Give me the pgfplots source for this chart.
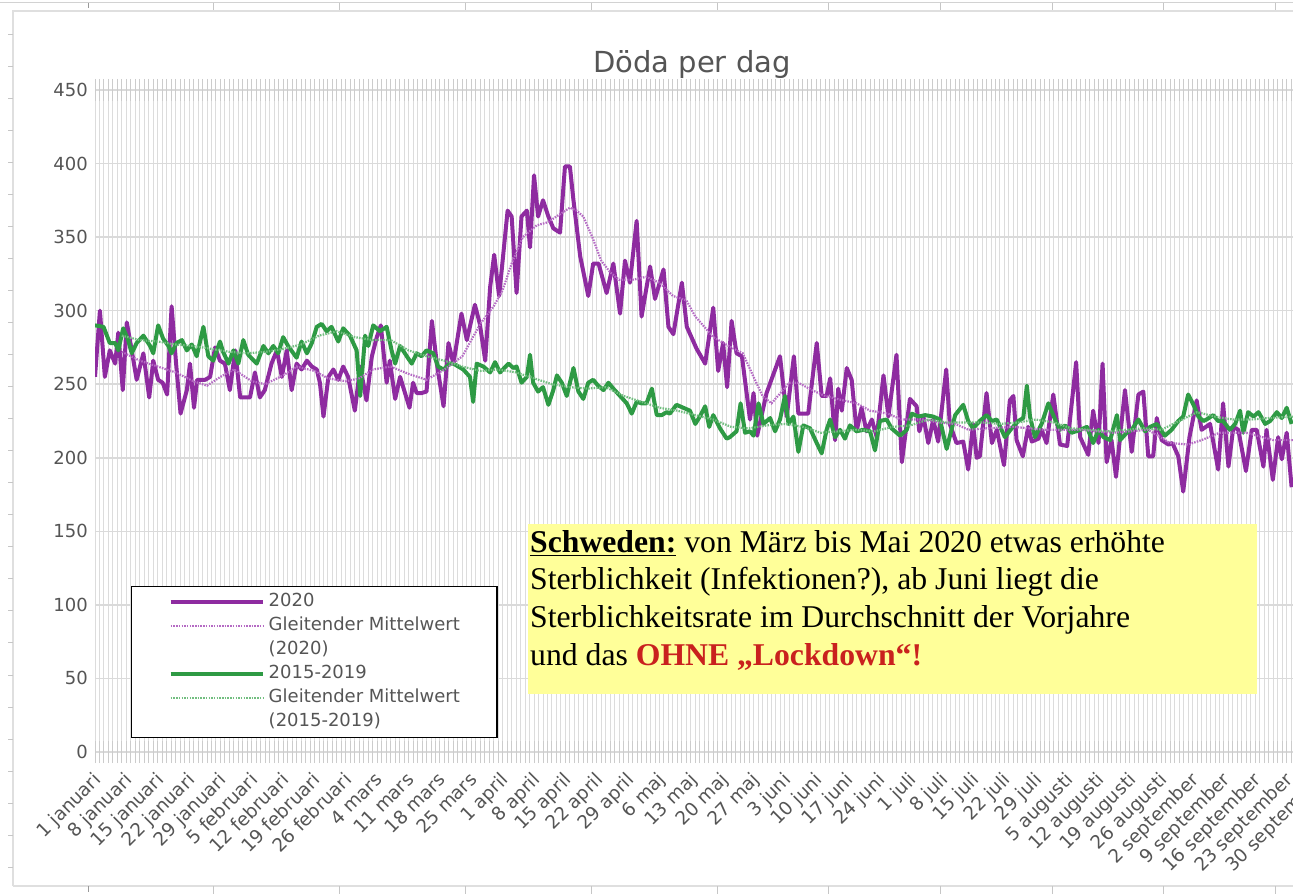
\documentclass[border=0pt]{standalone}
\usepackage{fontspec}
\setmainfont{DejaVu Sans}
\newfontfamily\serifx{Liberation Serif}
\usepackage{xcolor}
\usepackage{pgfplots}
\pgfplotsset{compat=1.18}
\definecolor{pur}{HTML}{8E2BA0}
\definecolor{grn}{HTML}{2E9A44}
\definecolor{purma}{HTML}{B56AC4}
\definecolor{grnma}{HTML}{72BE80}
\definecolor{txt}{HTML}{555555}
\definecolor{gridc}{HTML}{DADADA}
\definecolor{vgrid}{HTML}{DCDCDC}
\definecolor{ann}{HTML}{FFFF99}
\definecolor{annred}{HTML}{C9211E}
\begin{document}
\begin{tikzpicture}[x=1bp,y=1bp]
\fill[white] (0,0) rectangle (1304,894);
% spreadsheet surroundings
\draw[gray!35, line width=1bp] (0,891) -- (1293,891);
\foreach \x in {213,339,465,591,717,828,940,1052,1163,1275} {\draw[gray!45, line width=1bp] (\x,891) -- (\x,884);}
\draw[gray!80, line width=1bp] (88,891) -- (88,886);
\draw[gray!25, line width=1.5bp] (13,8) -- (13,883) -- (1300,883);
\draw[gray!25, line width=1.5bp] (13,8) -- (1300,8);
\foreach \x in {213,339,465,591,717,828,940,1052,1163,1275} {\draw[gray!45, line width=1bp] (\x,8) -- (\x,0);}
\draw[gray!80, line width=1bp] (88,8) -- (88,2);
\foreach \k in {0,...,26} {\draw[gray!45, line width=1bp] (8,859-32*\k) -- (13,859-32*\k);}

\begin{axis}[
  at={(95bp,142bp)}, anchor=origin, scale only axis,
  width=1236.48bp, height=662bp,
  xmin=0, xmax=276, ymin=0, ymax=450,
  axis line style={draw=none},
  ytick={0,50,...,450},
  yticklabels={0,50,100,150,200,250,300,350,400,450},
  xtick={0,7,...,273},
  xticklabels={1 januari,8 januari,15 januari,22 januari,29 januari,5 februari,12 februari,19 februari,26 februari,4 mars,11 mars,18 mars,25 mars,1 april,8 april,15 april,22 april,29 april,6 maj,13 maj,20 maj,27 maj,3 juni,10 juni,17 juni,24 juni,1 juli,8 juli,15 juli,22 juli,29 juli,5 augusti,12 augusti,19 augusti,26 augusti,2 september,9 september,16 september,23 september,30 september},
  minor xtick={0,1,...,276},
  xmajorgrids, xminorgrids, ymajorgrids,
  x grid style={vgrid, line width=1bp},
  y grid style={gridc, line width=1.5bp},
  major tick length=0bp, minor tick length=22bp, tick align=center,
  minor tick style={gray!40, line width=1bp},
  yticklabel style={font=\fontsize{18bp}{20bp}\selectfont, text=txt, inner sep=0pt, xshift=-7bp},
  xticklabel style={font=\fontsize{18.5bp}{20bp}\selectfont, text=txt, inner sep=0pt, anchor=north east, xshift=-3bp, yshift=-19bp, rotate=45},
  legend style={at={(axis description cs:0.0291,0.2508)}, anchor=north west,
    draw=black, line width=1.5bp, fill=white, inner xsep=37bp, inner ysep=7bp,
    font=\fontsize{18bp}{21bp}\selectfont, text=txt, row sep=7bp, column sep=4bp,
    nodes={inner sep=0pt, text height=13bp, text depth=4bp}},
  legend cell align=left,
  legend image code/.code={\draw[#1] (0bp,0bp) -- (92bp,0bp);},
]
% 2020
\addplot[pur, line width=4bp, line join=round, forget plot] coordinates {
(0,255) (1.1,300) (2.2,255) (3.3,273) (4.5,264) (5.2,285) (6.2,246) (7.1,292) (8.2,273) (9.3,253)
(10.8,271) (12.1,241) (13,266) (14.1,253) (15.1,251) (16.1,243) (17.1,303) (18.1,264) (19.1,230) (20.5,246)
(21.2,264) (22.1,234) (22.8,253) (24.6,253) (25.7,255) (26.8,275) (27.9,266) (29,264) (30.1,246) (31.3,273)
(32.4,241) (33.5,241) (34.6,241) (35.7,258) (36.8,241) (37.9,246) (39.4,264) (40.6,273) (41.7,255) (42.8,273)
(43.9,246) (45,264) (46.1,260) (47.3,266) (48.4,262) (49.5,260) (50.2,251) (51,228) (52.1,255) (53.2,260)
(54.3,253) (55.4,262) (56.5,255) (58,232) (59.2,262) (60.6,239) (61.8,269) (62.9,282) (63.8,290) (65.1,251)
(65.8,266) (67,240) (68.1,255) (69.2,244) (70.2,234) (71,251) (71.8,244) (72.9,244) (74,245) (75.2,293)
(76.3,264) (77.8,235) (78.9,278) (80,264) (81.8,298) (83,280) (84.8,304) (85.9,291) (87.1,266) (88.2,316)
(89.1,338) (90.2,310) (92.1,368) (93,364) (94.1,312) (95.2,364) (96.4,368) (97.1,343) (98,392) (98.9,364)
(100,375) (101.2,364) (102.3,356) (103.8,353) (104.9,398) (106,398) (106.8,375) (108.3,337) (110.1,310) (111.2,332)
(112.4,332) (114.2,312) (115.7,332) (117.2,298) (118.3,334) (119.4,319) (120.9,361) (122,296) (123.9,330) (125,308)
(126.9,328) (128,289) (129.1,284) (131,319) (132.1,289) (134.3,274) (136.2,264) (138,302) (139.1,259) (140.2,278)
(141.1,248) (142.1,293) (143.2,271) (144.4,269) (146.2,226) (147,244) (147.8,215) (149.9,244) (152.9,269) (154.4,228)
(156,269) (157,230) (159.2,230) (161.1,278) (162.2,242) (163.3,242) (164.1,254) (165.2,212) (165.9,247) (166.7,232)
(167.8,261) (168.9,253) (170,218) (171.1,234) (172.2,218) (173.4,226) (174.5,214) (176,256) (177.1,228) (178.9,270)
(180.1,197) (181.9,240) (183.4,235) (184,218) (184.9,228) (186,210) (187.1,226) (188.2,211) (190,260) (190.8,223)
(192.3,210) (193.8,211) (194.9,192) (196,223) (196.8,200) (197.5,201) (199,244) (200.2,210) (201.3,219) (202.9,195)
(204.2,239) (205,242) (205.7,212) (207.1,201) (208.3,221) (209.1,211) (210.6,213) (211.3,219) (212.4,210) (213.9,243)
(215.4,209) (217,208) (219,265) (219.9,214) (221.7,202) (222.8,232) (224,210) (224.9,264) (225.8,197) (226.9,212)
(227.9,187) (228.8,214) (229.9,246) (231.4,204) (232.9,243) (234,245) (235.1,201) (236.2,201) (237,227) (238.1,212)
(239.6,209) (240.5,210) (241.8,201) (242.9,177) (244.3,214) (245.9,239) (247,219) (248.9,223) (250.7,192) (251.8,237)
(253,194) (254.1,221) (255.2,219) (256.9,191) (258.2,219) (259.3,219) (260.8,194) (261.5,219) (262.9,185) (264.1,214)
(264.9,199) (266,217) (267.1,180)
};
% 2015-2019
\addplot[grn, line width=4bp, line join=round, forget plot] coordinates {
(0,290) (1.9,289) (3.3,278) (4.5,278) (5.2,273) (6.3,288) (7.4,280) (8.2,271) (9.3,278) (10.8,283)
(12.3,276) (13,271) (14.1,290) (15.2,281) (16.4,276) (17.1,271) (18.2,278) (19.4,280) (20.5,273) (21.6,277)
(22.7,269) (24.2,289) (25.3,269) (26.4,266) (27.9,279) (28.6,272) (29.8,264) (30.9,273) (32,264) (33.1,280)
(34.2,270) (36.1,264) (37.6,276) (38.7,271) (39.8,276) (40.9,271) (42,282) (43.1,276) (45,268) (46.1,279)
(47.3,271) (48.4,278) (49.5,289) (50.6,291) (51.7,286) (52.8,289) (54.3,279) (55.4,288) (56.9,283) (58.4,273)
(59.2,242) (60.3,283) (61,276) (62.1,290) (63.6,286) (65.1,289) (66.2,273) (67,264) (68.1,276) (69.6,269)
(70.7,264) (71.8,271) (72.9,269) (74,273) (75.5,271) (76.6,262) (77.8,260) (79.2,264) (80,264) (82.2,260)
(83.7,255) (84.4,238) (85.2,264) (86.7,262) (88.2,258) (89.3,265) (90.4,258) (92.3,264) (93.4,261) (94.1,262)
(95.2,251) (96.4,255) (97.1,270) (97.8,251) (98.9,245) (100,248) (101.2,236) (102.3,246) (103.1,256) (104.2,251)
(105.3,242) (106.8,261) (107.9,245) (109,240) (110.1,251) (111.2,253) (112.3,249) (113.5,246) (114.6,251) (115.7,247)
(117.2,242) (118.7,237) (119.8,230) (120.9,238) (122,237) (123.1,237) (124.3,247) (125.4,229) (126.5,229) (127.6,231)
(128.3,230) (129.8,236) (131.3,234) (132.8,232) (134,223) (135,228) (136.2,235) (137.1,221) (138,229) (139.5,220)
(141,213) (141.7,214) (143.2,218) (144.1,237) (145.1,217) (146.2,218) (147,215) (148.1,237) (149.2,223) (150.7,227)
(151.8,218) (152.9,226) (154,242) (154.8,223) (155.9,228) (157,204) (158.1,222) (159.6,220) (161.1,210) (162.2,203)
(163.3,219) (164.1,226) (165.2,214) (166.3,219) (167.4,213) (168.5,222) (170,218) (171.5,219) (173,218) (174.1,205)
(175.2,225) (176.7,226) (177.8,220) (179.7,215) (181.2,219) (182.3,230) (183.8,228) (185.3,229) (187.1,228) (188.6,226)
(190.1,206) (192,229) (193.8,236) (194.9,225) (196,220) (197.5,225) (199,229) (200.2,225) (201.3,226) (203.1,214)
(204.6,220) (206.1,225) (207.2,227) (208,249) (208.7,228) (209.8,214) (211.3,223) (212.8,237) (214.3,226) (215.4,219)
(216.5,222) (218,217) (219.9,219) (221.4,221) (222.8,210) (224,219) (225.1,214) (226.6,212) (228.1,229) (228.8,212)
(230.3,217) (231.4,219) (232.9,226) (234.4,218) (235.5,221) (237,223) (238.8,215) (240.3,219) (241.8,225) (242.9,228)
(244,243) (245.2,236) (246.3,228) (247.4,225) (248.1,226) (249.6,229) (250.7,225) (251.8,225) (253.3,219) (254.5,223)
(255.6,232) (256.3,217) (257.4,231) (258.6,228) (259.7,231) (261.2,223) (262.3,225) (263.8,231) (264.9,227) (266,234)
(267.1,223)
};
% moving average 2020
\addplot[purma, line width=2.2bp, dash pattern=on 1.5bp off 1.2bp, forget plot] coordinates {
(6,272) (10,266) (14,262) (18,258) (22,252) (25,249) (28,255) (31,260) (35,252) (38,250)
(42,256) (45,262) (49,259) (52,254) (56,252) (59,254) (62,260) (66,262) (70,257) (74,253)
(78,260) (82,269) (86,291) (89,303) (91,314) (93,332) (95.5,350) (98.6,358) (101,360) (103,364)
(106,370) (107.5,368) (109,364) (111,350) (113,334) (115,326) (117,321) (120,321) (123,323) (126,319)
(129,310) (132,307) (134,296) (138,282) (142,275) (144.6,271) (147,255) (149,242) (151,237) (153,244)
(155,251) (157,251) (160,246) (163,242) (167,239) (170,237) (173,232) (177,230) (180,226) (185,226)
(188,224) (192,223) (195,219) (199,220) (205,221) (212,219) (220,219) (227,217) (235,219) (240,210)
(244,209) (247,212) (251,217) (257,217) (263,212) (267.5,212)
};
% moving average 2015-2019
\addplot[grnma, line width=2.2bp, dash pattern=on 1.5bp off 1.2bp, forget plot] coordinates {
(6,283) (10,280) (14,279) (18,277) (22,276) (26,274) (30,272) (34,271) (38,272) (42,274)
(46,277) (50,283) (54,286) (58,282) (62,280) (66,280) (70,273) (74,269) (78,266) (82,262)
(86,259) (90,260) (94,258) (98,254) (102,250) (106,248) (110,247) (114,248) (118,242) (122,238)
(126,234) (130,232) (134,229) (138,226) (142,221) (146,220) (150,222) (154,223) (158,221) (162,217)
(166,218) (170,219) (174,218) (178,221) (182,222) (186,226) (190,224) (194,224) (198,224) (202,223)
(206,224) (210,226) (214,224) (218,220) (222,219) (226,218) (230,219) (234,220) (238,219) (242,225)
(246,231) (250,228) (254,226) (258,226) (262,227) (267.5,228)
};
\addlegendimage{pur, line width=4bp}
\addlegendimage{purma, line width=2.2bp, dash pattern=on 1.5bp off 1.2bp}
\addlegendimage{empty legend}
\addlegendimage{grn, line width=4bp}
\addlegendimage{grnma, line width=2.2bp, dash pattern=on 1.5bp off 1.2bp}
\addlegendimage{empty legend}
\legend{2020,Gleitender Mittelwert,(2020),2015-2019,Gleitender Mittelwert,(2015-2019)}
\end{axis}

% title
\node[anchor=base, inner sep=0pt, font=\fontsize{29bp}{32bp}\selectfont, text=txt] at (692,821) {Döda per dag};

% annotation
\fill[ann] (528,200) rectangle (1257,370);
\begin{scope}[every node/.style={anchor=base west, inner sep=0pt, font=\serifx\fontsize{31.7bp}{36bp}\selectfont}]
\node at (530,341) {\textbf{\underline{Schweden:}} von März bis Mai 2020 etwas erhöhte};
\node at (530,304) {Sterblichkeit (Infektionen?), ab Juni liegt die};
\node at (530,266) {Sterblichkeitsrate im Durchschnitt der Vorjahre};
\node at (530,229) {und das \textcolor{annred}{\textbf{OHNE „Lockdown“!}}};
\end{scope}

\fill[white] (1293,-5) rectangle (1320,900);
\pgfresetboundingbox
\useasboundingbox (0,0) rectangle (1304,894);
\end{tikzpicture}
\end{document}
